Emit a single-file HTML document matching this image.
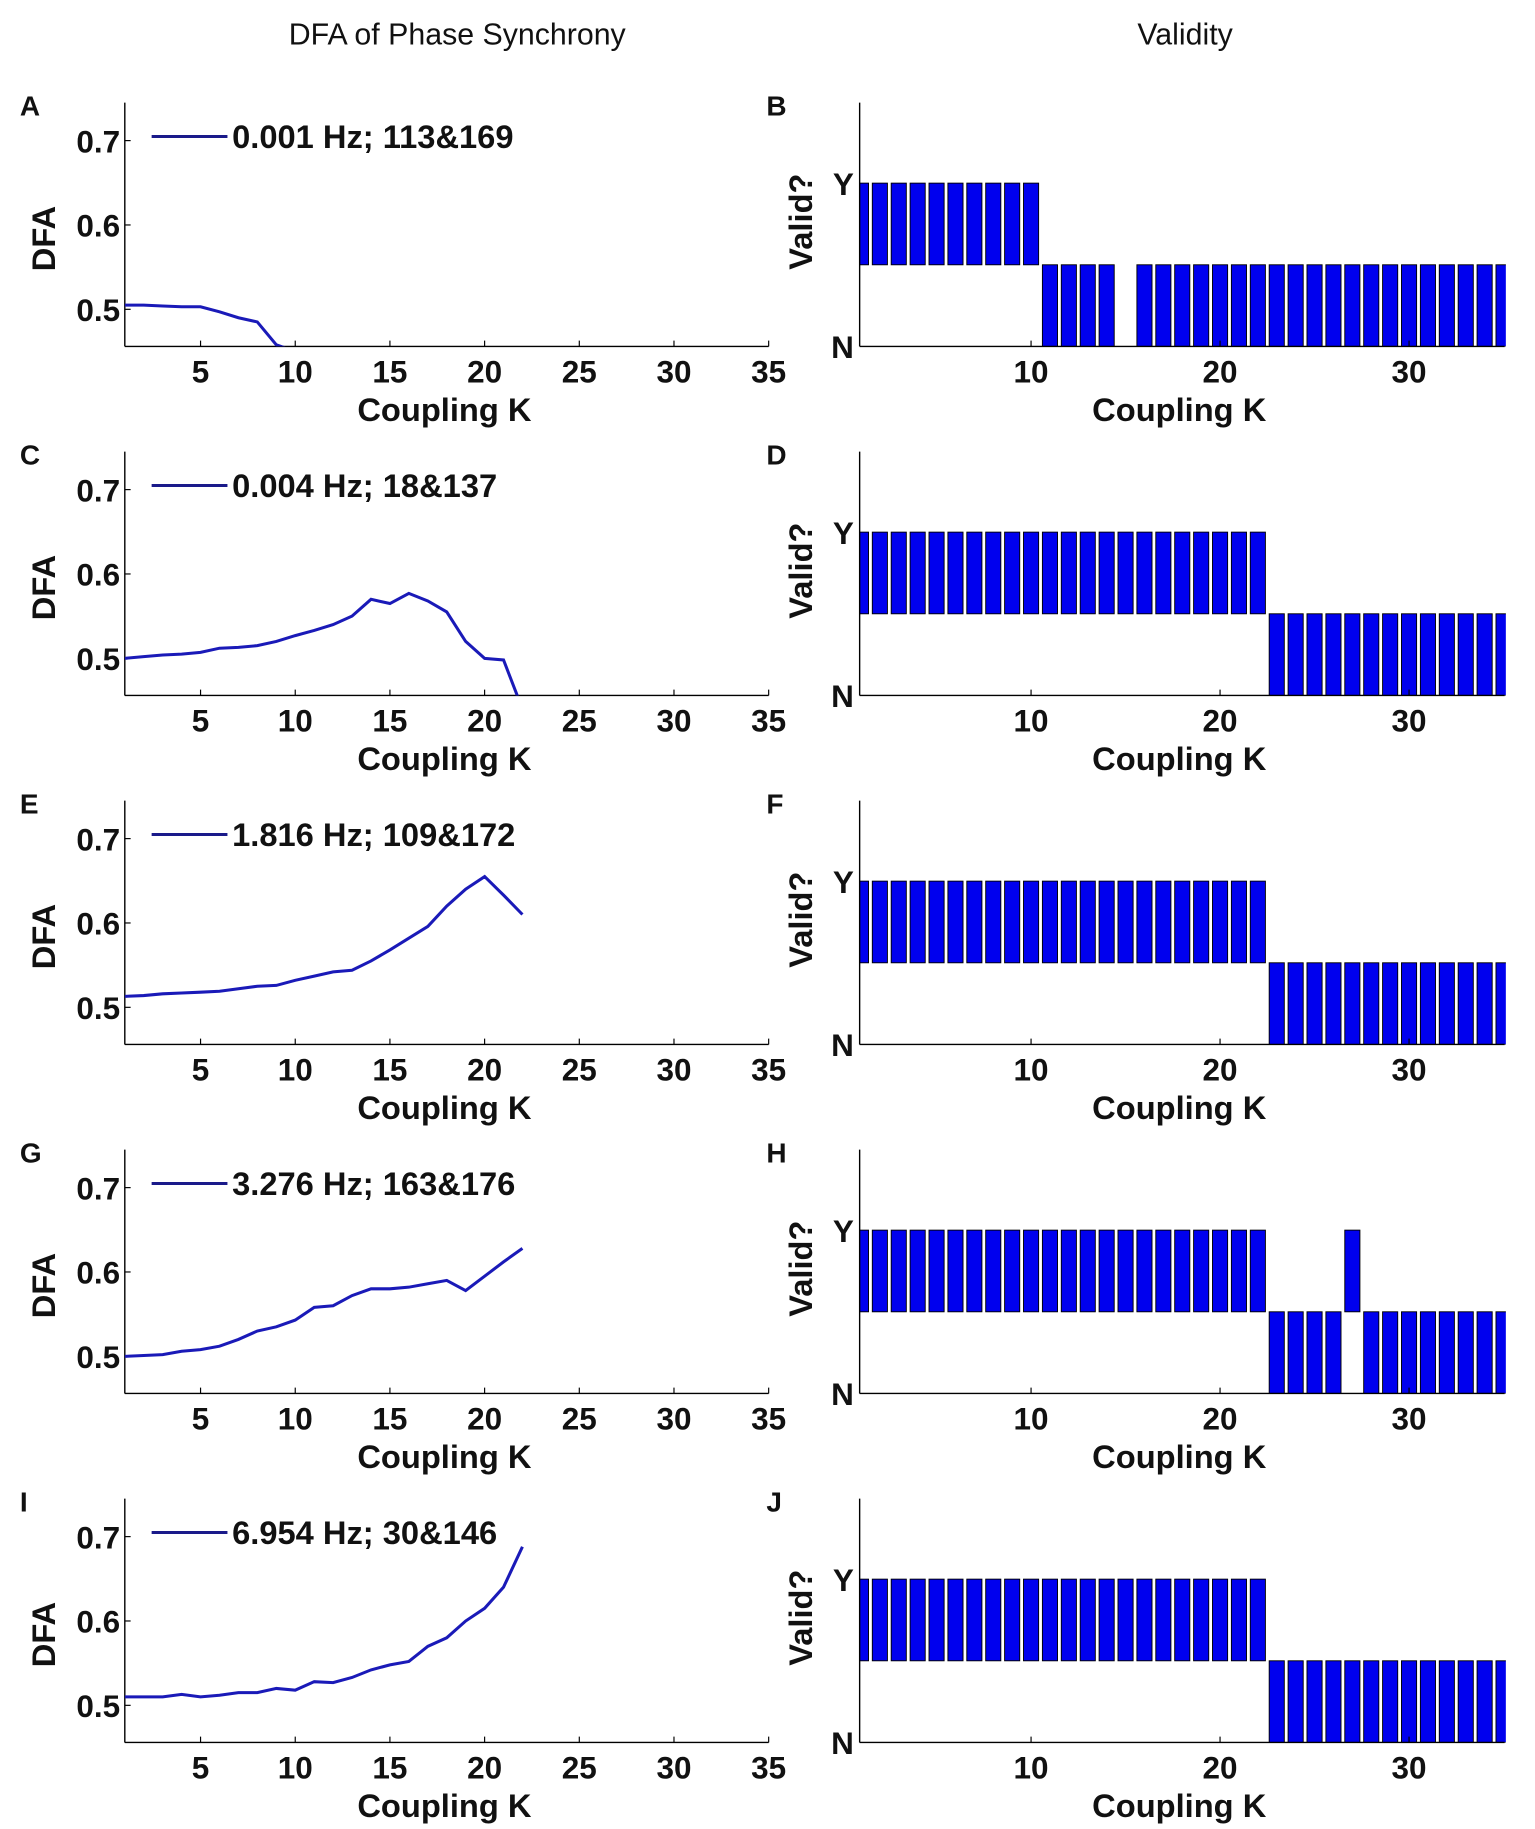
<!DOCTYPE html>
<html><head><meta charset="utf-8"><style>
html,body{margin:0;padding:0;background:#fff;}
svg{display:block;}
text{font-family:"Liberation Sans",sans-serif;fill:#111;}
.b{font-weight:bold;}
</style></head><body>
<svg id="fig" width="1535" height="1829" viewBox="0 0 1316 1568" preserveAspectRatio="none" xmlns="http://www.w3.org/2000/svg">
<text x="392" y="38" text-anchor="middle" font-size="26">DFA of Phase Synchrony</text>
<text x="1016" y="38" text-anchor="middle" font-size="26">Validity</text>
</svg>
<script>
const K = [1,2,3,4,5,6,7,8,9,10,11,12,13,14,15,16,17,18,19,20,21,22];
const dfaA = [0.505,0.505,0.504,0.503,0.503,0.497,0.49,0.485,0.458,0.45];
const dfaC = [0.5,0.502,0.504,0.505,0.507,0.512,0.513,0.515,0.52,0.527,0.533,0.54,0.55,0.57,0.565,0.577,0.568,0.555,0.52,0.5,0.498,0.44];
const dfaE = [0.513,0.514,0.516,0.517,0.518,0.519,0.522,0.525,0.526,0.532,0.537,0.542,0.544,0.555,0.568,0.582,0.596,0.62,0.64,0.655,0.633,0.61];
const dfaG = [0.5,0.501,0.502,0.506,0.508,0.512,0.52,0.53,0.535,0.543,0.558,0.56,0.572,0.58,0.58,0.582,0.586,0.59,0.578,0.595,0.612,0.628];
const dfaI = [0.51,0.51,0.51,0.513,0.51,0.512,0.515,0.515,0.52,0.518,0.528,0.527,0.533,0.542,0.548,0.552,0.57,0.58,0.6,0.615,0.64,0.688];
const legends = ["0.001 Hz; 113&169","0.004 Hz; 18&137","1.816 Hz; 109&172","3.276 Hz; 163&176","6.954 Hz; 30&146"];
// validity: 1 = Y, 0 = N, -1 = missing; K = 1..35
const validB = [1,1,1,1,1,1,1,1,1,1,0,0,0,0,-1,0,0,0,0,0,0,0,0,0,0,0,0,0,0,0,0,0,0,0,0];
const validD = [1,1,1,1,1,1,1,1,1,1,1,1,1,1,1,1,1,1,1,1,1,1,0,0,0,0,0,0,0,0,0,0,0,0,0];
const validF = [1,1,1,1,1,1,1,1,1,1,1,1,1,1,1,1,1,1,1,1,1,1,0,0,0,0,0,0,0,0,0,0,0,0,0];
const validH = [1,1,1,1,1,1,1,1,1,1,1,1,1,1,1,1,1,1,1,1,1,1,0,0,0,0,1,0,0,0,0,0,0,0,0];
const validJ = [1,1,1,1,1,1,1,1,1,1,1,1,1,1,1,1,1,1,1,1,1,1,0,0,0,0,0,0,0,0,0,0,0,0,0];
const xTicksL = [5,10,15,20,25,30,35];
const yTicksL = [0.5,0.6,0.7];
const xTicksR = [10,20,30];

const NS="http://www.w3.org/2000/svg", svg=document.getElementById('fig');
function el(t,a,txt){const e=document.createElementNS(NS,t);for(const k in a)e.setAttribute(k,a[k]);if(txt!=null)e.textContent=txt;svg.appendChild(e);return e;}

const series=[dfaA,dfaC,dfaE,dfaG,dfaI], valids=[validB,validD,validF,validH,validJ];
const lettersL=["A","C","E","G","I"], lettersR=["B","D","F","H","J"];
const rowStep=299.2;
for(let r=0;r<5;r++){
  const oy=r*rowStep;
  const L=107,R=659,T=88+oy,B=297+oy, x0=1,x1=35,y0=0.456,y1=0.745;
  const sx=v=>L+(v-x0)/(x1-x0)*(R-L), sy=v=>B-(v-y0)/(y1-y0)*(B-T);
  let e=el('text',{x:17,y:99+oy,'font-size':24,class:'b'},lettersL[r]);
  
  
  e=el('line',{x1:L,y1:T,x2:L,y2:B,stroke:'#000','stroke-width':1.2});
  
  
  e=el('line',{x1:L,y1:B,x2:R,y2:B,stroke:'#000','stroke-width':1.2});
  
  
  xTicksL.forEach(t=>{
    el('line',{x1:sx(t),y1:B,x2:sx(t),y2:B-5,stroke:'#000'});
    e=el('text',{x:sx(t),y:B+31,'text-anchor':'middle','font-size':27,class:'b'},t);
    
    
  });
  yTicksL.forEach(t=>{
    el('line',{x1:L,y1:sy(t),x2:L+5,y2:sy(t),stroke:'#000'});
    e=el('text',{x:L-4,y:sy(t)+10,'text-anchor':'end','font-size':27,class:'b'},t.toFixed(1));
    
    
  });
  e=el('text',{x:381,y:B+64,'text-anchor':'middle','font-size':28,class:'b'},'Coupling K');
  
  
  e=el('text',{x:0,y:0,'text-anchor':'middle','font-size':28,class:'b',transform:`translate(47,${(T+B)/2+12}) rotate(-90)`},'DFA');
  
  
  const cid='clip'+r;
  const cp=el('clipPath',{id:cid}); const cr=document.createElementNS(NS,'rect');
  cr.setAttribute('x',L);cr.setAttribute('y',T);cr.setAttribute('width',R-L);cr.setAttribute('height',B-T);cp.appendChild(cr);
  const d=series[r].map((v,i)=>(i?'L':'M')+sx(K[i]).toFixed(1)+','+sy(v).toFixed(1)).join(' ');
  e=el('path',{d:d,fill:'none',stroke:'#1a1ab8','stroke-width':2.6,'clip-path':`url(#${cid})`});
  
  
  el('line',{x1:130,y1:117+oy,x2:195,y2:117+oy,stroke:'#1a1a8a','stroke-width':2.6});
  e=el('text',{x:199,y:127+oy,'font-size':28,class:'b'},legends[r]);
  
  

  const RL=737,RR=1290, rx0=0.93,rx1=35.06, RB=297+oy, RY=157+oy;
  const rsx=v=>RL+(v-rx0)/(rx1-rx0)*(RR-RL);
  const rsy=v=>RB-v*(RB-RY);
  e=el('text',{x:657,y:99+oy,'font-size':24,class:'b'},lettersR[r]);
  
  
  const rcid='rclip'+r;
  const rcp=el('clipPath',{id:rcid}); const rcr=document.createElementNS(NS,'rect');
  rcr.setAttribute('x',RL);rcr.setAttribute('y',T);rcr.setAttribute('width',RR-RL+1);rcr.setAttribute('height',B-T);rcp.appendChild(rcr);
  valids[r].forEach((v,i)=>{
    if(v<0)return;
    const k=i+1, a=rsx(k-0.4), b=rsx(k+0.4);
    const top=v===1?rsy(1):rsy(0.5), bot=v===1?rsy(0.5):rsy(0);
    const bar=el('rect',{x:a,y:top,width:b-a,height:bot-top,fill:'#0000ee',stroke:'#000','stroke-width':0.8,'clip-path':`url(#${rcid})`});
    
    
  });
  e=el('line',{x1:RL,y1:T,x2:RL,y2:RB,stroke:'#000','stroke-width':1.2});
  
  
  e=el('line',{x1:RL,y1:RB,x2:RR,y2:RB,stroke:'#000','stroke-width':1.2});
  
  
  xTicksR.forEach(t=>{
    el('line',{x1:rsx(t),y1:RB,x2:rsx(t),y2:RB-5,stroke:'#000'});
    e=el('text',{x:rsx(t),y:RB+31,'text-anchor':'middle','font-size':27,class:'b'},t);
    
    
  });
  [['Y',1],['N',0]].forEach(([s,v])=>{
    e=el('text',{x:RL-5,y:rsy(v)+10,'text-anchor':'end','font-size':27,class:'b'},s);
    
    
  });
  e=el('text',{x:1011,y:RB+64,'text-anchor':'middle','font-size':28,class:'b'},'Coupling K');
  
  
  e=el('text',{x:0,y:0,'text-anchor':'middle','font-size':28,class:'b',transform:`translate(696,${rsy(0.8)+5}) rotate(-90)`},'Valid?');
  
  
}
</script>
</body></html>
